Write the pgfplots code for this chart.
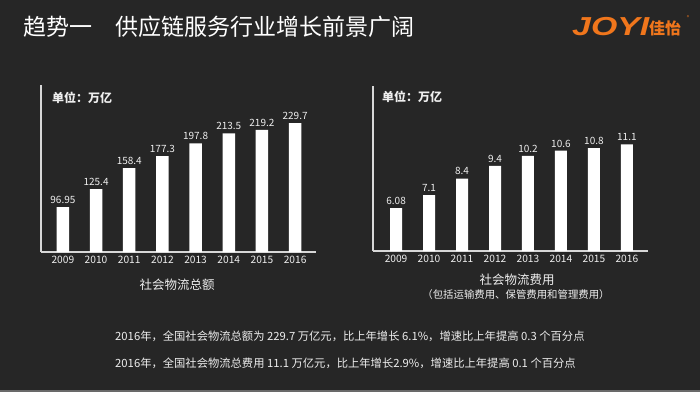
\documentclass[border=0pt]{standalone}
\usepackage{pgfplots}
\pgfplotsset{compat=1.18}
\usepackage{fontspec}
\setmainfont{Noto Sans CJK SC}
\newfontfamily\logofont{Liberation Sans}
\definecolor{bg}{RGB}{38,38,38}
\definecolor{axgray}{RGB}{215,215,215}
\definecolor{txt}{RGB}{238,238,238}
\definecolor{joyi}{RGB}{240,118,28}
\definecolor{strip}{RGB}{105,105,105}
\pgfplotsset{
  barchart/.style={
    scale only axis, width=275pt, anchor=south west,
    axis lines=left, axis line style={-, draw=axgray, line width=1.4pt},
    ytick=\empty, xtick={0,1,2,3,4,5,6,7},
    xticklabels={2009,2010,2011,2012,2013,2014,2015,2016},
    major tick length=0pt,
    xticklabel style={font=\fontsize{10.2}{10.5}\selectfont, text=txt, yshift=-1pt},
    ybar, nodes near coords, point meta=explicit symbolic,
    every node near coord/.append style={font=\fontsize{10}{10.5}\selectfont, text=txt},
    clip=false,
  }
}
\begin{document}
\begin{tikzpicture}[x=1pt,y=1pt]
\useasboundingbox (0,0) rectangle (700,392);
\fill[bg] (0,0) rectangle (700,392);
\fill[strip] (0,0) rectangle (700,2);
% title
\node[anchor=west, inner sep=0, text=white, font=\fontsize{23}{23}\selectfont] at (23,365) {趋势一　供应链服务行业增长前景广阔};
% logo
\node[anchor=west, inner sep=0, text=joyi] at (572,365) {\scalebox{1.3}[1]{\logofont\bfseries\itshape\fontsize{26}{26}\selectfont JOYI}};
\node[anchor=west, inner sep=0, text=joyi, font=\bfseries\fontsize{16}{16}\selectfont] at (649,364) {佳怡};
\node[inner sep=0, text=joyi, font=\fontsize{5}{5}\selectfont] at (688,374) {®};

% left chart
\begin{axis}[barchart, at={(41pt,140pt)}, height=167pt,
  xmin=-0.66, xmax=7.63, ymin=25.8, ymax=290, bar width=12.5pt]
\addplot[fill=white, draw=none] coordinates {
  (0,96.95)[96.95] (1,125.4)[125.4] (2,158.4)[158.4] (3,177.3)[177.3]
  (4,197.8)[197.8] (5,213.5)[213.5] (6,219.2)[219.2] (7,229.7)[229.7]};
\end{axis}
% right chart
\begin{axis}[barchart, at={(373pt,141pt)}, height=165pt,
  xmin=-0.70, xmax=7.64, ymin=2.7, ymax=15.7, bar width=12pt]
\addplot[fill=white, draw=none] coordinates {
  (0,6.08)[6.08] (1,7.1)[7.1] (2,8.4)[8.4] (3,9.4)[9.4]
  (4,10.2)[10.2] (5,10.6)[10.6] (6,10.8)[10.8] (7,11.1)[11.1]};
\end{axis}

% unit labels
\node[anchor=west, inner sep=0, text=txt, font=\bfseries\fontsize{12}{12}\selectfont] at (52,294) {单位：万亿};
\node[anchor=west, inner sep=0, text=txt, font=\bfseries\fontsize{12}{12}\selectfont] at (382,295) {单位：万亿};
% subtitles
\node[inner sep=0, text=txt, font=\fontsize{12.5}{12.5}\selectfont] at (177,107) {社会物流总额};
\node[inner sep=0, text=txt, font=\fontsize{12.5}{12.5}\selectfont] at (517,112) {社会物流费用};
\node[inner sep=0, text=txt, font=\fontsize{10.4}{10.4}\selectfont] at (516,97) {（包括运输费用、保管费用和管理费用）};
% bottom notes
\node[anchor=west, inner sep=0, text=txt, font=\fontsize{11.3}{11.3}\selectfont] at (115,56) {2016年，全国社会物流总额为 229.7 万亿元，比上年增长 6.1\%，增速比上年提高 0.3 个百分点};
\node[anchor=west, inner sep=0, text=txt, font=\fontsize{11.3}{11.3}\selectfont] at (115,29) {2016年，全国社会物流总费用 11.1 万亿元，比上年增长2.9\%，增速比上年提高 0.1 个百分点};
\end{tikzpicture}
\end{document}
